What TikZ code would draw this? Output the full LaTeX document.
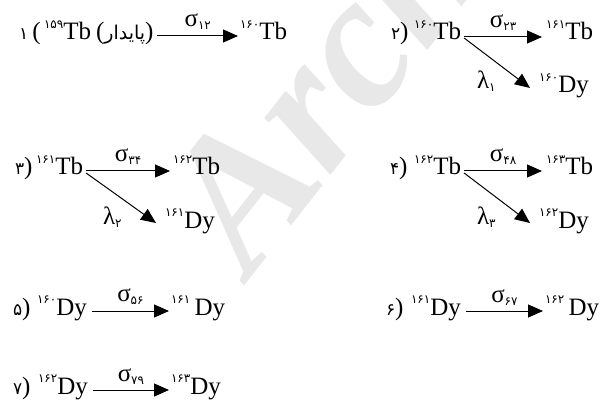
\documentclass[tikz,border=0pt]{standalone}
\usepackage{fontspec}
\setmainfont{Liberation Serif}
\newfontfamily\fa[Script=Arabic]{DejaVu Sans}
\TeXXeTstate=1
\usetikzlibrary{arrows.meta}
\newcommand\fd[1]{{\fontsize{12}{12}\fa #1}}
\newcommand\up[1]{\raisebox{11.5pt}{\fd{#1}}}
\newcommand\sg[1]{σ\raisebox{-3pt}{\fd{#1}}}
\newcommand\lm[1]{λ\raisebox{-3pt}{\fd{#1}}}
\newcommand\nm[1]{{\fontsize{17}{17}\fa #1}}
\begin{document}
\begin{tikzpicture}[x=1pt,y=-1pt,
  every node/.style={inner sep=0pt, outer sep=0pt, font=\fontsize{25}{28}\selectfont},
  iso/.style={anchor=base west},
  lab/.style={anchor=base west},
  arr/.style={-{Triangle[length=15pt,width=13pt]}, line width=1pt},
  sig/.style={midway, above=6pt}]
\useasboundingbox (0,0) rectangle (601,403);
\begin{scope}
\clip (0,0) rectangle (601,403);
\node[rotate=52, anchor=base west, text=black!9, font=\fontsize{190}{190}\selectfont\bfseries\itshape] (wmk) at (250,278) {Archive};
\end{scope}
% row 1 left
\node[lab] (l1) at (19,40) {\nm{۱}\,(};
\node[iso] (a1) at (44,40) {\up{۱۵۹}Tb};
\node[lab] (p1) at (96,40) {({\fontsize{19}{19}\fa\beginR پایدار\endR})};
\node[iso] (b1) at (240,40) {\up{۱۶۰}Tb};
\draw[arr] ([xshift=4,yshift=4]p1.base east) -- ([xshift=-2,yshift=4]b1.base west) node[sig] (s1) {\sg{۱۲}};
% row 1 right
\node[lab] (l2) at (391,40) {\nm{۲})};
\node[iso] (a2) at (414,40) {\up{۱۶۰}Tb};
\node[iso] (b2) at (546,40) {\up{۱۶۱}Tb};
\node[iso] (c2) at (539,93) {\up{۱۶۰}Dy};
\node[lab] (m1) at (477,89) {\lm{۱}};
\draw[arr] ([xshift=3,yshift=3]a2.base east) -- ([xshift=-4,yshift=3]b2.base west) node[sig] (s2) {\sg{۲۳}};
\draw[arr] ([xshift=3,yshift=2]a2.base east) -- ([xshift=-9,yshift=5]c2.base west);
% row 2 left
\node[lab] (l3) at (15,175) {\nm{۳})};
\node[iso] (a3) at (36,175) {\up{۱۶۱}Tb};
\node[iso] (b3) at (173,175) {\up{۱۶۲}Tb};
\node[iso] (c3) at (165,228) {\up{۱۶۱}Dy};
\node[lab] (m2) at (103,224) {\lm{۲}};
\draw[arr] ([xshift=3,yshift=4]a3.base east) -- ([xshift=-3,yshift=4]b3.base west) node[sig] (s3) {\sg{۳۴}};
\draw[arr] ([xshift=3,yshift=2]a3.base east) -- ([xshift=-9,yshift=5]c3.base west);
% row 2 right
\node[lab] (l4) at (390,175) {\nm{۴})};
\node[iso] (a4) at (414,175) {\up{۱۶۲}Tb};
\node[iso] (b4) at (546,175) {\up{۱۶۳}Tb};
\node[iso] (c4) at (539,228) {\up{۱۶۲}Dy};
\node[lab] (m3) at (477,224) {\lm{۳}};
\draw[arr] ([xshift=3,yshift=4]a4.base east) -- ([xshift=-4,yshift=4]b4.base west) node[sig] (s4) {\sg{۴۸}};
\draw[arr] ([xshift=3,yshift=2]a4.base east) -- ([xshift=-9,yshift=5]c4.base west);
% row 3
\node[lab] (l5) at (13,315) {\nm{۵})};
\node[iso] (a5) at (37,315) {\up{۱۶۰}Dy};
\node[iso] (b5) at (171,315) {\up{۱۶۱}\,Dy};
\draw[arr] ([xshift=5,yshift=4]a5.base east) -- ([xshift=-2,yshift=4]b5.base west) node[sig] (s5) {\sg{۵۶}};
\node[lab] (l6) at (386,315) {\nm{۶})};
\node[iso] (a6) at (411,315) {\up{۱۶۱}Dy};
\node[iso] (b6) at (545,315) {\up{۱۶۲}\,Dy};
\draw[arr] ([xshift=5,yshift=4]a6.base east) -- ([xshift=-2,yshift=4]b6.base west) node[sig] (s6) {\sg{۶۷}};
% row 4
\node[lab] (l7) at (13,394) {\nm{۷})};
\node[iso] (a7) at (38,394) {\up{۱۶۲}Dy};
\node[iso] (b7) at (171,394) {\up{۱۶۳}Dy};
\draw[arr] ([xshift=5,yshift=4]a7.base east) -- ([xshift=-2,yshift=4]b7.base west) node[sig] (s7) {\sg{۷۹}};
\end{tikzpicture}
\end{document}
